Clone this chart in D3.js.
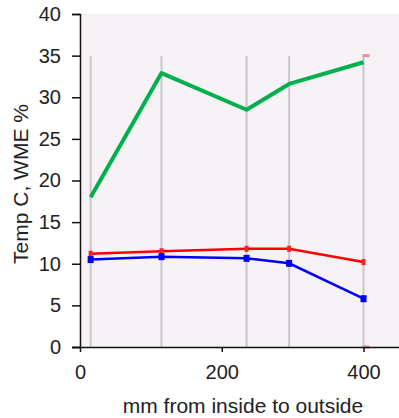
<!DOCTYPE html>
<html>
<head>
<meta charset="utf-8">
<script src="https://cdn.jsdelivr.net/npm/d3@7"></script>
<style>
  body { margin: 0; background: #fff; }
  text { font-family: "Liberation Sans", Arial, sans-serif; fill: #222; }
</style>
</head>
<body>
<svg id="chart"></svg>
<script>
var width = 399;
var height = 418;

// data
var distances = [15, 115, 235, 295, 400];
var wme = [18, 32.9, 28.5, 31.6, 34.2];
var tempRed = [11.2, 11.5, 11.8, 11.8, 10.2];
var tempBlue = [10.5, 10.85, 10.65, 10.05, 5.8];
var gridTop = 35;
var rangeMarks = [35, 0];
var xTicks = [0, 200, 400];
var yTicks = [0, 5, 10, 15, 20, 25, 30, 35, 40];

var svg = d3.select('#chart')
  .attr('width', width)
  .attr('height', height);

var xScale = d3.scaleLinear()
  .domain([0, 450])
  .range([80, 399]);

var yScale = d3.scaleLinear()
  .domain([0, 40])
  .range([347, 14]);

// plot background
svg.append('rect')
  .attr('x', xScale(0))
  .attr('y', yScale(40))
  .attr('width', xScale(450) - xScale(0))
  .attr('height', yScale(0) - yScale(40))
  .attr('fill', '#f6f2f6');

// vertical lines at each measuring point
svg.selectAll('.drop')
  .data(distances)
  .enter()
  .append('line')
  .attr('x1', d => xScale(d))
  .attr('x2', d => xScale(d))
  .attr('y1', yScale(gridTop))
  .attr('y2', yScale(0))
  .attr('stroke', '#c9c5c9')
  .attr('stroke-width', 2);

var line = d3.line()
  .x((d, i) => xScale(distances[i]))
  .y(d => yScale(d));

svg.append('path')
  .datum(wme)
  .attr('d', line)
  .attr('fill', 'none')
  .attr('stroke', '#00b04f')
  .attr('stroke-width', 4)
  .attr('stroke-linejoin', 'round');

svg.append('path')
  .datum(tempRed)
  .attr('d', line)
  .attr('fill', 'none')
  .attr('stroke', '#ff0000')
  .attr('stroke-width', 2.5);

svg.append('path')
  .datum(tempBlue)
  .attr('d', line)
  .attr('fill', 'none')
  .attr('stroke', '#0000ff')
  .attr('stroke-width', 2.5);

// red markers
svg.selectAll('.redMark')
  .data(tempRed)
  .enter()
  .append('rect')
  .attr('x', (d, i) => xScale(distances[i]) - 2)
  .attr('y', d => yScale(d) - 3)
  .attr('width', 4)
  .attr('height', 6)
  .attr('fill', '#ff2020');

// blue markers
svg.selectAll('.blueMark')
  .data(tempBlue)
  .enter()
  .append('rect')
  .attr('x', (d, i) => xScale(distances[i]) - 3)
  .attr('y', d => yScale(d) - 3.5)
  .attr('width', 6)
  .attr('height', 7)
  .attr('fill', '#0000ff');

// pink range marks at the last point
svg.selectAll('.rangeMark')
  .data(rangeMarks)
  .enter()
  .append('rect')
  .attr('x', xScale(400) - 1)
  .attr('y', d => yScale(d) - 1.5)
  .attr('width', 7)
  .attr('height', 3)
  .attr('fill', '#e4939b');

// axes
var yAxis = svg.append('g')
  .attr('transform', 'translate(' + xScale(0) + ',0)')
  .call(d3.axisLeft(yScale).tickValues(yTicks).tickSize(8).tickPadding(11));

var xAxis = svg.append('g')
  .attr('transform', 'translate(0,' + yScale(0) + ')')
  .call(d3.axisBottom(xScale).tickValues(xTicks).tickSize(5).tickPadding(13));

[yAxis, xAxis].forEach(function(ax) {
  ax.select('.domain').attr('stroke', '#111').attr('stroke-width', 1.5);
  ax.selectAll('.tick line').attr('stroke', '#111').attr('stroke-width', 1.5);
  ax.selectAll('text')
    .style('font-size', '20px')
    .style('font-family', '"Liberation Sans", Arial, sans-serif')
    .attr('fill', '#222');
});

// extend x axis line to the left under the y ticks
xAxis.select('.domain').attr('d', 'M72,0.5H399');

svg.append('text')
  .attr('x', 243)
  .attr('y', 413)
  .style('text-anchor', 'middle')
  .style('font-size', '21px')
  .text('mm from inside to outside');

svg.append('text')
  .attr('transform', 'rotate(-90)')
  .attr('x', -184)
  .attr('y', 28)
  .style('text-anchor', 'middle')
  .style('font-size', '21px')
  .text('Temp C, WME %');
</script>
</body>
</html>
